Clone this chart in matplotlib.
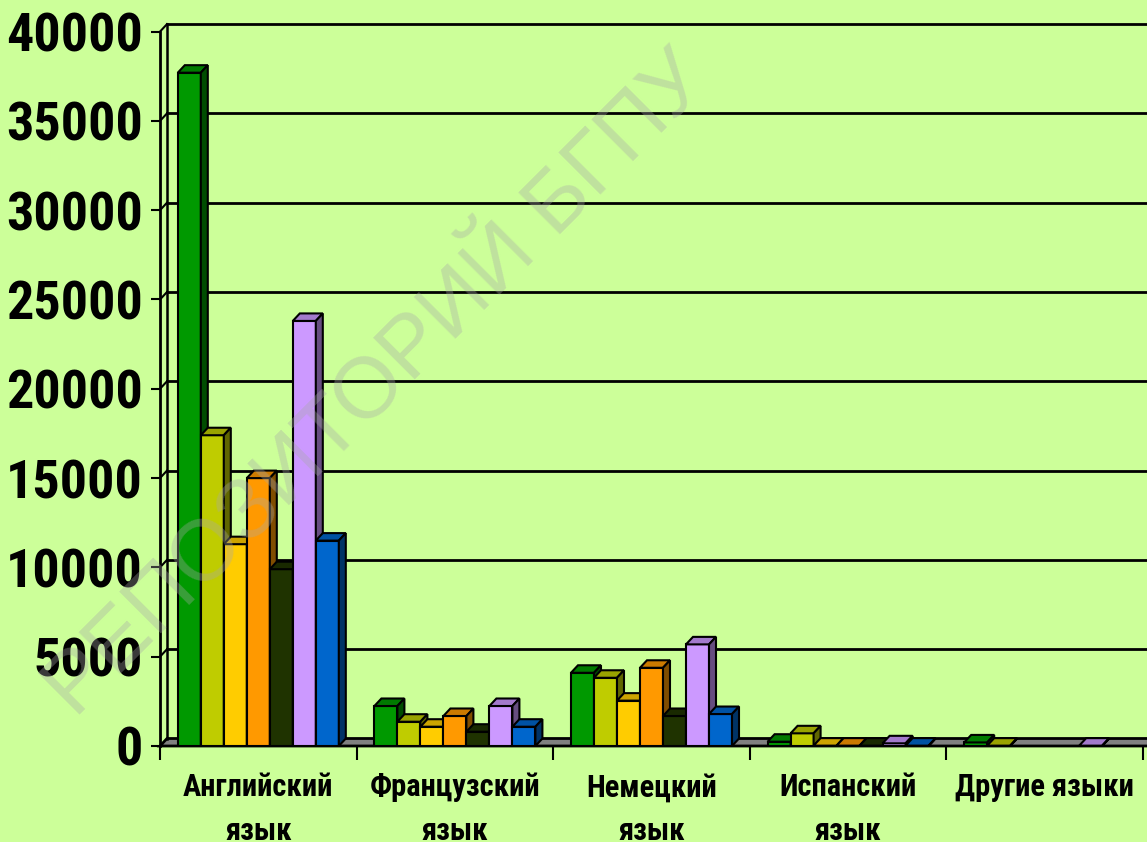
import numpy as np
import matplotlib.pyplot as plt
from matplotlib.patches import Polygon
from matplotlib.colors import to_rgb

# categories and values (7 series, no legend)
categories = ['Английский\nязык', 'Французский\nязык', 'Немецкий\nязык',
              'Испанский\nязык', 'Другие языки']
vals_green = [37700, 2240, 4100, 240, 200]
vals_olive = [17400, 1360, 3820, 710, 20]
vals_yellow = [11300, 1080, 2540, 20, np.nan]
vals_orange = [15000, 1680, 4380, 20, np.nan]
vals_dark = [9900, 800, 1680, 20, np.nan]
vals_lilac = [23800, 2240, 5690, 150, 20]
vals_blue = [11500, 1080, 1790, 20, np.nan]
yticks = [0, 5000, 10000, 15000, 20000, 25000, 30000, 35000, 40000]

series = [vals_green, vals_olive, vals_yellow, vals_orange, vals_dark, vals_lilac, vals_blue]
colors = ['#009900', '#BFCC00', '#FFCC00', '#FF9900', '#1F3300', '#CC99FF', '#0066CC']
bg = '#CCFF99'
narrow = ['Roboto Condensed', 'DejaVu Sans']


def shade(c, f):
    r, g, b = to_rgb(c)
    return (r * f, g * f, b * f)


fig = plt.figure(figsize=(11.47, 8.42), dpi=100, facecolor=bg)
ax = fig.add_axes([160 / 1147, 96 / 842, 983 / 1147, 714.4 / 842])
ax.set_xlim(0, 5)
ax.set_ylim(0, 40000)
ax.set_facecolor('none')

# depth of the fake 3d, in data units
dx = 7 * 5 / 983
dy = 7.5 * 40000 / 714.4

# floor slab
floor = Polygon([(0, 0), (5 + 2 * dx, 0), (5 + 3 * dx, dy), (dx, dy)], closed=True,
                facecolor='#808080', edgecolor='black', lw=2, clip_on=False, zorder=1)
ax.add_patch(floor)

# back wall: gridlines and left edge
ax.plot([dx, dx], [dy, 40000 + dy], color='black', lw=1.8, clip_on=False, zorder=1)
for v in yticks[1:]:
    ax.plot([0, dx], [v, v + dy], color='black', lw=1.5, clip_on=False, zorder=1)
    ax.plot([dx, 5 + 2 * dx], [v + dy, v + dy], color='black', lw=2, clip_on=False, zorder=1)

w = 0.117
start = 0.5 - 3.5 * w
for i, vals in enumerate(series):
    c = colors[i]
    z = 3 + i
    xs = np.arange(5) + start + i * w
    for x0, h in zip(xs, vals):
        if np.isnan(h):
            continue
        ax.bar(x0, h, w, align='edge', color=c, edgecolor='black', lw=1.5, zorder=z)
        top = Polygon([(x0, h), (x0 + w, h), (x0 + w + dx, h + dy), (x0 + dx, h + dy)],
                      closed=True, facecolor=shade(c, 0.8), edgecolor='black', lw=1.5,
                      zorder=z, clip_on=False)
        side = Polygon([(x0 + w, 0), (x0 + w + dx, dy), (x0 + w + dx, h + dy), (x0 + w, h)],
                       closed=True, facecolor=shade(c, 0.5), edgecolor='black', lw=1.5,
                       zorder=z, clip_on=False)
        ax.add_patch(top)
        ax.add_patch(side)

for s in ['top', 'right', 'bottom']:
    ax.spines[s].set_visible(False)
ax.spines['left'].set_linewidth(2)

ax.set_yticks(yticks)
ax.set_yticklabels([str(v) for v in yticks], fontsize=39, fontweight='bold', family=narrow)
ax.tick_params(axis='y', length=6.5, width=1.5, pad=6)

ax.set_xticks(np.arange(6))
ax.set_xticklabels([])
ax.set_xticks(np.arange(5) + 0.5, minor=True)
ax.set_xticklabels(categories, minor=True, fontsize=22, fontweight='bold', family=narrow,
                   linespacing=1.55, va='top')
ax.tick_params(axis='x', which='major', length=10, width=1.5)
ax.tick_params(axis='x', which='minor', length=0, pad=19)

# watermark
fig.text(378 / 1147, 1 - 386 / 842, 'РЕПОЗИТОРИЙ БГПУ', rotation=45, fontsize=62,
         color='#a8a8a8', alpha=0.35, ha='center', va='center', rotation_mode='anchor',
         family=['Liberation Sans', 'DejaVu Sans'], zorder=10)

fig.savefig('out.png', dpi=100, facecolor=bg)
